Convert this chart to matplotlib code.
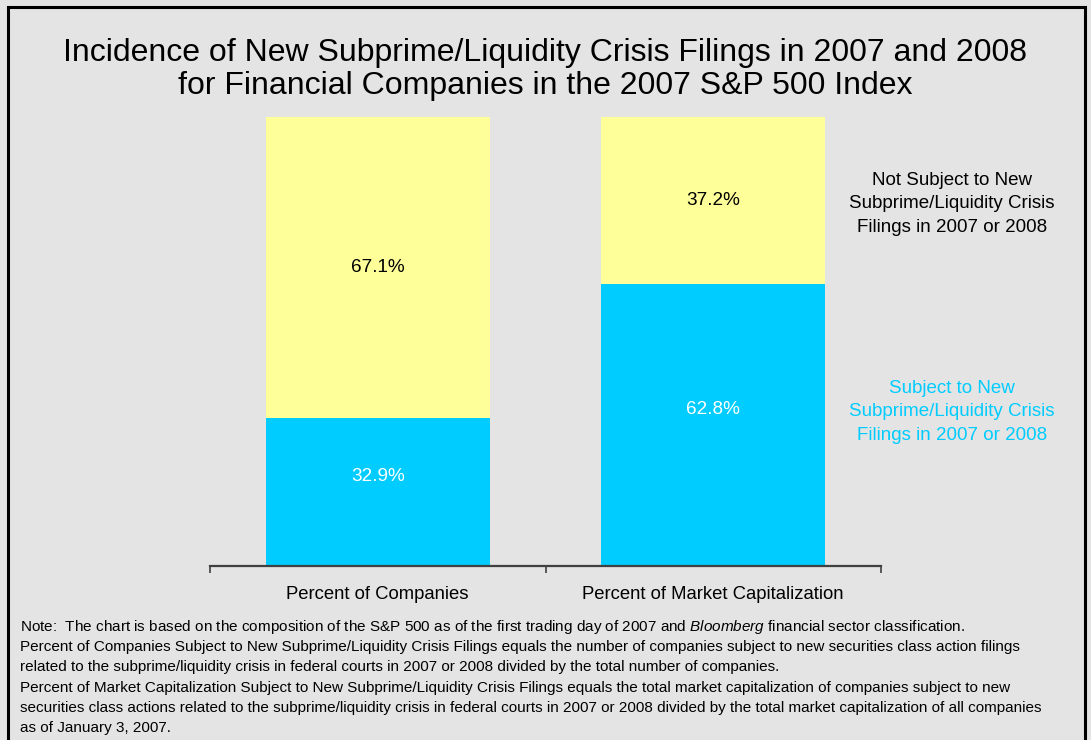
import matplotlib
matplotlib.use("Agg")
import matplotlib.pyplot as plt
from matplotlib.patches import Rectangle

plt.rcParams['font.family'] = ['Liberation Sans', 'DejaVu Sans']
plt.rcParams['mathtext.fontset'] = 'custom'
plt.rcParams['mathtext.rm'] = 'Liberation Sans'
plt.rcParams['mathtext.it'] = 'Liberation Sans:italic'

categories = ["Percent of Companies", "Percent of Market Capitalization"]
subject = [32.9, 62.8]
not_subject = [67.1, 37.2]
series_labels = ["Subject to New\nSubprime/Liquidity Crisis\nFilings in 2007 or 2008",
                 "Not Subject to New\nSubprime/Liquidity Crisis\nFilings in 2007 or 2008"]
title = ("Incidence of New Subprime/Liquidity Crisis Filings in 2007 and 2008\n"
         "for Financial Companies in the 2007 S&P 500 Index")
notes = [
    r"Note:  The chart is based on the composition of the S&P 500 as of the first trading day of 2007 and $\it{Bloomberg}$ financial sector classification.",
    "Percent of Companies Subject to New Subprime/Liquidity Crisis Filings equals the number of companies subject to new securities class action filings",
    "related to the subprime/liquidity crisis in federal courts in 2007 or 2008 divided by the total number of companies.",
    "Percent of Market Capitalization Subject to New Subprime/Liquidity Crisis Filings equals the total market capitalization of companies subject to new",
    "securities class actions related to the subprime/liquidity crisis in federal courts in 2007 or 2008 divided by the total market capitalization of all companies",
    "as of January 3, 2007.",
]

BG = "#e4e4e4"
CYAN = "#00ccff"
YELLOW = "#ffff99"

W, H = 1091, 740
fig = plt.figure(figsize=(W/100, H/100), dpi=100, facecolor=BG)

# frame
fig.patches.append(Rectangle((8/W, -0.01), (1085-8)/W, 1 - 7/H + 0.01,
                             transform=fig.transFigure, fill=False,
                             edgecolor="black", linewidth=2.2))

ax = fig.add_axes([210/W, 1-566/H, (881-210)/W, (566-117)/H])
ax.set_facecolor(BG)
x = list(range(len(categories)))
bw = 0.668
ax.bar(x, subject, width=bw, color=CYAN, edgecolor='none')
ax.bar(x, not_subject, width=bw, bottom=subject, color=YELLOW, edgecolor='none')
ax.set_xlim(-0.5, 1.5)
ax.set_ylim(0, 100)
for s in ['top', 'right', 'left']:
    ax.spines[s].set_visible(False)
ax.spines['bottom'].set_color('#404040')
ax.spines['bottom'].set_linewidth(1.6)
ax.set_yticks([])
ax.set_xticks([-0.5, 0.5, 1.5])
ax.set_xticklabels([])
ax.tick_params(axis='x', direction='out', length=5, width=1.2, color='#404040')
for xi, c in zip(x, categories):
    ax.annotate(c, (xi, 0), xytext=(0, -20.5), textcoords='offset points',
                ha='center', va='center', fontsize=13.3, color='black')

for xi, s, n in zip(x, subject, not_subject):
    ax.annotate(f"{s:.1f}%", (xi, s/2), xytext=(0, 11), textcoords='offset points',
                ha='center', va='center', fontsize=13.6, color='white')
    ax.annotate(f"{n:.1f}%", (xi, s + n/2), ha='center', va='center',
                fontsize=13.6, color='black')

fig.text(952/W, 1-204/H, series_labels[1], ha='center', va='center',
         fontsize=13.5, color='black', linespacing=1.5)
fig.text(952/W, 1-412/H, series_labels[0], ha='center', va='center',
         fontsize=13.5, color=CYAN, linespacing=1.5)

fig.text(545/W, 1-69.5/H, title, ha='center', va='center', fontsize=23.0,
         color='black', linespacing=1.17)

y0 = 627
for i, line in enumerate(notes):
    fig.text(20/W, 1-(y0 + i*20.2)/H, line, ha='left', va='center',
             fontsize=11.0, color='black')

fig.savefig("out.png", dpi=100, facecolor=BG)
